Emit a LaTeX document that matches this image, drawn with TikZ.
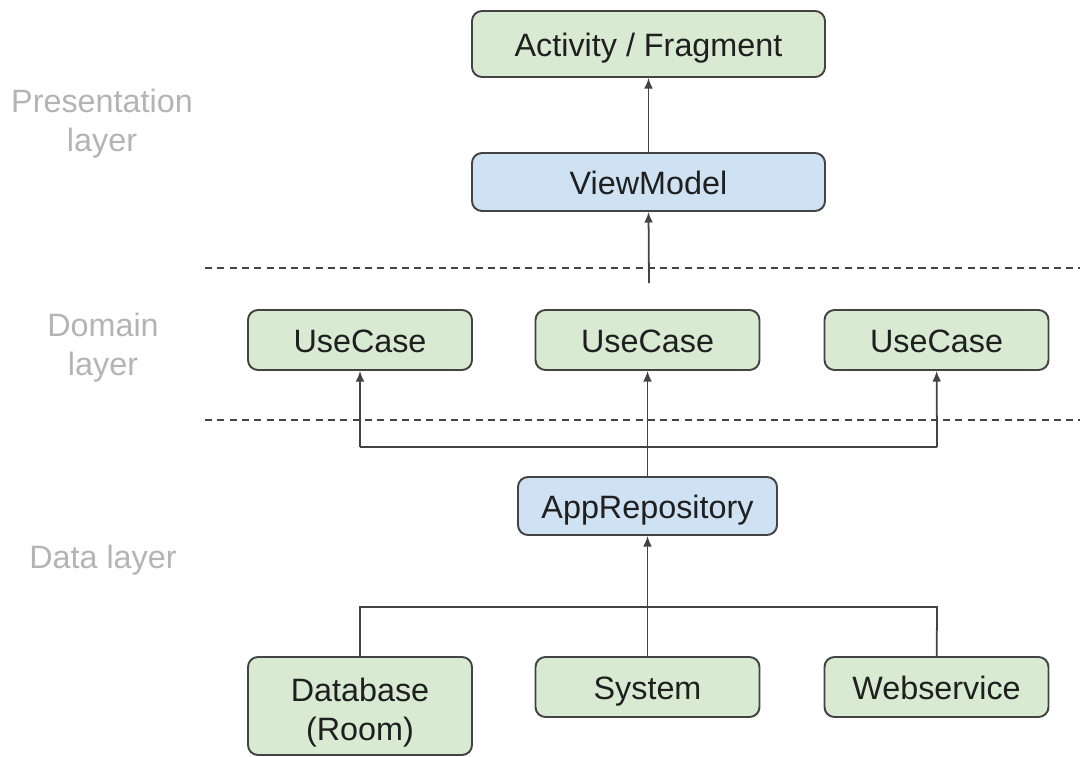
\documentclass[tikz,border=0pt]{standalone}
\usepackage{fontspec}
\setmainfont{Liberation Sans}
\usetikzlibrary{arrows.meta}

\definecolor{boxgreen}{HTML}{D9EAD3}
\definecolor{boxblue}{HTML}{CFE2F3}
\definecolor{boxline}{HTML}{434343}
\definecolor{layergray}{HTML}{B4B4B4}

\begin{document}
\begin{tikzpicture}[
		x=0.2mm, y=-0.2mm,
		every node/.style={font=\fontsize{18.4}{22.3}\selectfont, text=black!88},
		box/.style={rectangle, rounded corners=2mm, draw=boxline, line width=1.1pt,
			inner sep=0pt, align=center, minimum width=44.8mm, minimum height=12mm,
			text height=15pt, text depth=1pt},
		greenbox/.style={box, fill=boxgreen},
		bluebox/.style={box, fill=boxblue},
		layer/.style={text=layergray, align=center},
		link/.style={draw=boxline, line width=1pt},
		arrow/.style={link, -{Latex[length=6pt, width=5pt]}},
		divider/.style={draw=boxline, line width=0.9pt, dash pattern=on 4pt off 3pt}
	]
  \useasboundingbox (0,0) rectangle (1080,756);

  \node (act) [greenbox, minimum width=70.6mm, minimum height=13.2mm] at (648.5, 44) {Activity / Fragment};
  \node (vm) [bluebox, minimum width=70.6mm, minimum height=11.6mm] at (648.5, 182) {ViewModel};

  \node (uc1) [greenbox] at (360, 340) {UseCase};
  \node (uc2) [greenbox] at (647.5, 340) {UseCase};
  \node (uc3) [greenbox] at (936.5, 340) {UseCase};

  \node (repo) [bluebox, minimum width=51.8mm, minimum height=11.6mm] at (647.5, 506) {AppRepository};

  \node (db) [greenbox, text height=43.5pt, text depth=, minimum height=19.6mm] at (360, 706) {Database\\(Room)};
  \node (sys) [greenbox] at (647.5, 687) {System};
  \node (web) [greenbox] at (936.5, 687) {Webservice};

  \node (pres) [layer] at (102, 124) {Presentation\\layer};
  \node (dom) [layer] at (103, 348) {Domain\\layer};
  \node (data) [layer] at (103, 560) {Data layer};

  \draw [divider] (205, 268) -- (1080, 268);
  \draw [divider] (205, 420) -- (1080, 420);

  \coordinate (vm_in) at (649, 283);
  \coordinate (uc_l) at (360, 447);
  \coordinate (uc_r) at (937, 447);
  \coordinate (src_l) at (360, 607);
  \coordinate (src_r) at (937, 607);

  \draw [arrow] (vm) -- (act);
  \draw [arrow] (vm_in) -- (vm.south);
  \draw [arrow] (repo) -- (uc2);
  \draw [link] (uc_l) -- (uc_r);
  \draw [arrow] (uc_l) -- (uc1);
  \draw [arrow] (uc_r) -- (uc3);
  \draw [arrow] (sys) -- (repo);
  \draw [link] (db) -- (src_l) -- (src_r) -- (web);
\end{tikzpicture}
\end{document}
